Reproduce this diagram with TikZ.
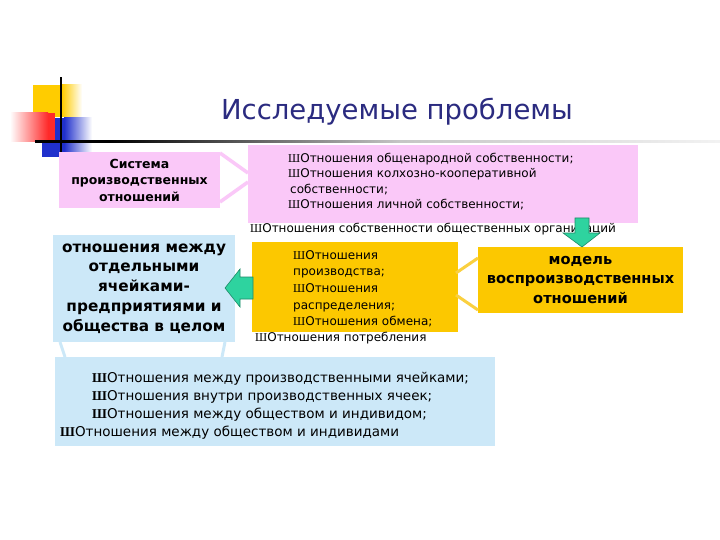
\documentclass[tikz,border=0pt]{standalone}
\usepackage{fontspec}
\setmainfont{DejaVu Sans}
\newfontfamily\bulletfont{Liberation Serif}
\newcommand\blt{{\bulletfont Ш}}
\usetikzlibrary{calc}
\definecolor{pinkbg}{HTML}{FAC8F8}
\definecolor{bluebg}{HTML}{CCE8F8}
\definecolor{orangebg}{HTML}{FCC800}
\definecolor{orangeln}{HTML}{FAD040}
\definecolor{titleblue}{HTML}{2B2B80}
\definecolor{arrowgreen}{HTML}{2ED39F}
\definecolor{arrowedge}{HTML}{1E8A68}
\definecolor{decoyellow}{HTML}{FFCC00}
\definecolor{decored}{HTML}{FF2A2A}
\definecolor{decoblue}{HTML}{2030CC}
\begin{document}
\begin{tikzpicture}[x=1pt,y=-1pt,
  box/.style={anchor=north west, inner sep=0pt, outer sep=0pt},
  pinkbox/.style={box, fill=pinkbg},
  bluebox/.style={box, fill=bluebg},
  orangebox/.style={box, fill=orangebg},
  boldtxt/.style 2 args={align=center, font=\bfseries\fontsize{#1}{#2}\selectfont},
  plain/.style={inner sep=0pt, align=left, anchor=north west},
  pinkln/.style={draw=pinkbg, line width=3.5pt},
  orangeconn/.style={draw=orangeln, line width=3pt},
  blueconn/.style={draw=bluebg, line width=3pt},
  greenarrow/.style={fill=arrowgreen, draw=arrowedge, line width=0.6pt}
]
\useasboundingbox[fill=white] (0,0) rectangle (720,540);

% decoration
\fill[decoyellow] (33,85) rectangle (62,117);
\shade[left color=decoyellow, right color=white] (62,85) rectangle (82,117);
\fill[decoblue] (42,118) rectangle (64,157);
\shade[left color=decoblue, right color=white] (64,118) rectangle (92,157);
\shade[left color=white, right color=decored] (10,113) rectangle (48,142);
\fill[decored] (48,113) rectangle (55,142);
\fill[black] (60.3,77) rectangle (62,155);
\fill[black] (35,140.5) rectangle (110,143);
\shade[left color=black, right color=gray!45] (110,140.5) rectangle (400,143);
\shade[left color=gray!45, right color=gray!10] (400,140.5) rectangle (720,143);

% title
\node[anchor=base, inner sep=0pt, text=titleblue, font=\fontsize{27.5}{32}\selectfont] (title) at (397,119.3) {Исследуемые проблемы};

% boxes
\node[pinkbox, minimum width=161pt, minimum height=56pt, boldtxt={12.5}{16.5}] (sys) at (59,152) {Система\\производственных\\отношений};
\node[pinkbox, minimum width=390pt, minimum height=78pt] (own) at (248,145) {};
\node[plain, font=\fontsize{12}{15.3}\selectfont] (owntxt) at (288,153) {\blt Отношения общенародной собственности;\\\blt Отношения колхозно-кооперативной\\\hspace*{2pt}собственности;\\\blt Отношения личной собственности;};
\node[anchor=west, inner sep=0pt, font=\fontsize{12}{15}\selectfont] (ownlast) at (250,229) {\blt Отношения собственности общественных организаций};

\node[bluebox, minimum width=182pt, minimum height=107pt, boldtxt={15.3}{19.8}] (cells) at (53,235) {отношения между\\отдельными\\ячейками-\\предприятиями и\\общества в целом};

\node[orangebox, minimum width=206pt, minimum height=90pt] (forms) at (252,242) {};
\node[plain, font=\fontsize{12}{16.7}\selectfont] (formstxt) at (293,250) {\blt Отношения\\производства;\\\blt Отношения\\распределения;\\\blt Отношения обмена;};
\node[anchor=west, inner sep=0pt, font=\fontsize{12}{15}\selectfont] (formslast) at (255,338) {\blt Отношения потребления};

\node[orangebox, minimum width=205pt, minimum height=66pt, boldtxt={14.6}{19.5}] (model) at (478,247) {модель\\воспроизводственных\\отношений};

\node[bluebox, minimum width=440pt, minimum height=89pt] (levels) at (55,357) {};
\node[plain, font=\fontsize{13.5}{18}\selectfont] (levelstxt) at (60,372) {\hspace*{32pt}{\bfseries\blt}Отношения между производственными ячейками;\\\hspace*{32pt}{\bfseries\blt}Отношения внутри производственных ячеек;\\\hspace*{32pt}{\bfseries\blt}Отношения между обществом и индивидом;\\{\bfseries\blt}Отношения между обществом и индивидами};

% connectors
\draw[pinkln] ($(sys.north east)+(0,1)$) -- ($(own.north west)+(0,28)$);
\draw[pinkln] ($(sys.south east)+(0,-6)$) -- ($(own.north west)+(0,37)$);
\draw[orangeconn] ($(forms.north east)+(-2,31)$) -- ($(model.north west)+(0,11)$);
\draw[orangeconn] ($(forms.north east)+(-2,53)$) -- ($(model.north west)+(0,63)$);
\draw[blueconn] ($(cells.south west)+(7,0)$) -- ($(levels.north west)+(10,0)$);
\draw[blueconn] ($(cells.south east)+(-10,0)$) -- ($(levels.north west)+(167,0)$);

% block arrows
\draw[greenarrow] (575,218) -- (589,218) -- (589,233) -- (600,233) -- (582,247) -- (563,233) -- (575,233) -- cycle;
\draw[greenarrow] (253,277) -- (240,277) -- (240,269) -- (225,288) -- (240,307) -- (240,299) -- (253,299) -- cycle;
\end{tikzpicture}
\end{document}
